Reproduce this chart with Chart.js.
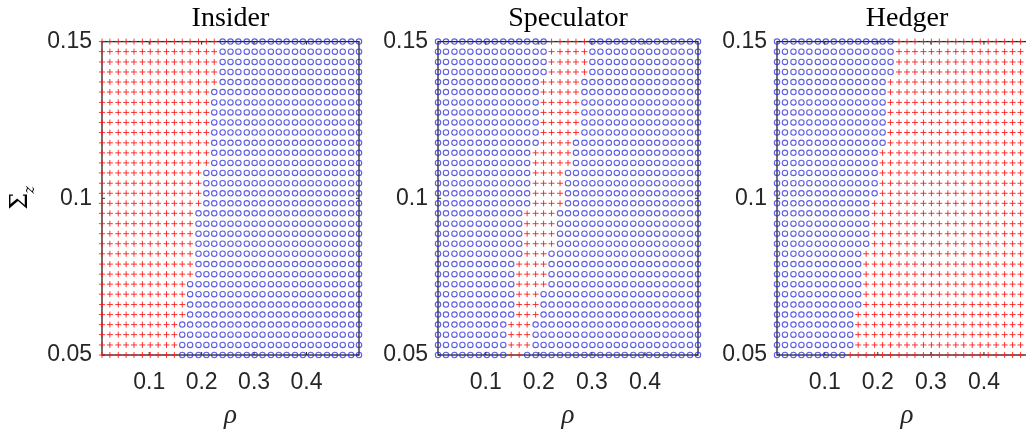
<!DOCTYPE html>
<html><head><meta charset="utf-8">
<script src="https://cdn.jsdelivr.net/npm/chart.js@4.4.0/dist/chart.umd.min.js"></script>
<style>
html,body{margin:0;padding:0;background:#fff;overflow:hidden;width:1026px;height:431px;}
#wrap{position:relative;width:1026px;height:431px;overflow:hidden;background:#fff;}
canvas{position:absolute;top:0;}
</style></head><body><div id="wrap">
<canvas id="c1" width="372" height="431" style="left:0px"></canvas>
<canvas id="c2" width="372" height="431" style="left:336px"></canvas>
<canvas id="c3" width="372" height="431" style="left:675px"></canvas>
</div>
<script>
// grid of rho values (x) and Sigma_z values (y, bottom-up)
const rho = [0.010,0.025,0.041,0.056,0.071,0.087,0.102,0.117,0.133,0.148,0.163,0.178,0.194,0.209,0.224,0.240,0.255,0.270,0.286,0.301,0.316,0.332,0.347,0.362,0.378,0.393,0.408,0.423,0.439,0.454,0.469,0.485,0.500];
const sigmaZ = [0.0500,0.0532,0.0565,0.0597,0.0629,0.0661,0.0694,0.0726,0.0758,0.0790,0.0823,0.0855,0.0887,0.0919,0.0952,0.0984,0.1016,0.1048,0.1081,0.1113,0.1145,0.1177,0.1210,0.1242,0.1274,0.1306,0.1339,0.1371,0.1403,0.1435,0.1468,0.1500];
const panelTitles = ['Insider','Speculator','Hedger'];
const xTicks = [0.1,0.2,0.3,0.4];
const yTicks = [0.05,0.1,0.15];
// Insider: first rho (per Sigma_z row, bottom-up) where marker becomes 'o'
const insiderSwitch = [0.163,0.163,0.163,0.163,0.178,0.178,0.178,0.178,0.194,0.194,0.194,0.194,0.194,0.194,0.194,0.209,0.209,0.209,0.209,0.224,0.224,0.224,0.224,0.224,0.224,0.224,0.224,0.240,0.240,0.240,0.240,0.240];
// Speculator: band of '+' markers per row (bottom-up)
const specRedFrom = [0.148,0.148,0.148,0.148,0.163,0.163,0.163,0.163,0.163,0.163,0.178,0.178,0.178,0.178,0.178,0.194,0.194,0.194,0.194,0.194,0.194,0.209,0.209,0.209,0.209,0.209,0.209,0.209,0.224,0.224,0.224,0.224];
const specRedTo   = [0.163,0.178,0.178,0.178,0.194,0.194,0.194,0.209,0.209,0.209,0.209,0.224,0.224,0.224,0.224,0.240,0.240,0.240,0.240,0.255,0.255,0.255,0.270,0.270,0.270,0.270,0.270,0.270,0.286,0.286,0.286,0.286];
// Hedger: first rho (per row, bottom-up) where marker becomes '+'
const hedgerSwitch = [0.148,0.163,0.163,0.163,0.163,0.178,0.178,0.178,0.178,0.178,0.178,0.194,0.194,0.194,0.194,0.194,0.209,0.209,0.209,0.209,0.209,0.224,0.224,0.224,0.224,0.224,0.224,0.224,0.240,0.240,0.240,0.240];

const RED = 'rgba(255,20,20,0.85)';
const BLUE = 'rgba(40,40,215,0.75)';
const AXIS = '#262626';

const framePlugin = {
  id: 'frame',
  beforeDatasetsDraw(chart) {
    const {ctx, chartArea: a, scales} = chart;
    ctx.save();
    ctx.strokeStyle = AXIS;
    ctx.lineWidth = 1.3;
    ctx.strokeRect(a.left, a.top, a.right - a.left, a.bottom - a.top);
    ctx.lineWidth = 1;
    const tl = 3;
    xTicks.forEach(v => {
      const px = scales.x.getPixelForValue(v);
      ctx.beginPath();
      ctx.moveTo(px, a.bottom); ctx.lineTo(px, a.bottom - tl);
      ctx.moveTo(px, a.top); ctx.lineTo(px, a.top + tl);
      ctx.stroke();
    });
    yTicks.forEach(v => {
      const py = scales.y.getPixelForValue(v);
      ctx.beginPath();
      ctx.moveTo(a.left, py); ctx.lineTo(a.left + tl, py);
      ctx.moveTo(a.right, py); ctx.lineTo(a.right - tl, py);
      ctx.stroke();
    });
    ctx.restore();
  }
};

const ylabelPlugin = {
  id: 'ylabel',
  afterDraw(chart) {
    const ctx = chart.ctx;
    const cy = (chart.chartArea.top + chart.chartArea.bottom) / 2 + 3;
    ctx.save();
    ctx.translate(21, cy);
    ctx.rotate(-Math.PI / 2);
    ctx.fillStyle = '#000';
    ctx.textAlign = 'center';
    ctx.textBaseline = 'middle';
    ctx.font = '24px "DejaVu Serif"';
    ctx.fillText('\u03A3', 0, 0);
    ctx.font = 'italic 14px "DejaVu Serif"';
    ctx.fillText('z', 11.5, 9);
    ctx.restore();
  }
};

function makeChart(id, title, isRed, padRight, extraPlugins) {
  const red = [], blue = [];
  sigmaZ.forEach((s, j) => rho.forEach(r => (isRed(r, j) ? red : blue).push({x: r, y: s})));
  return new Chart(document.getElementById(id), {
    type: 'scatter',
    data: { datasets: [
      { data: blue, pointStyle: 'circle', pointRadius: 2.7, pointBorderColor: BLUE, pointBackgroundColor: 'rgba(0,0,0,0)', pointBorderWidth: 1.1, clip: false },
      { data: red, pointStyle: 'cross', pointRadius: 3, pointBorderColor: RED, pointBackgroundColor: RED, pointBorderWidth: 1, clip: false }
    ]},
    options: {
      responsive: false, animation: false, devicePixelRatio: 1,
      events: [],
      layout: { padding: { left: 0, right: padRight, top: 0, bottom: 0 } },
      plugins: {
        legend: { display: false }, tooltip: { enabled: false },
        title: { display: true, text: title, fullSize: false, color: '#000',
          font: { family: 'Liberation Serif', size: 28, weight: 'normal', lineHeight: 1.2 },
          padding: { top: 2, bottom: 6 } }
      },
      scales: {
        x: { type: 'linear', min: 0.01, max: 0.5,
          afterBuildTicks: s => { s.ticks = xTicks.map(v => ({ value: v })); },
          afterFit: s => { s.height = 76; },
          grid: { display: false, drawTicks: false }, border: { display: false },
          ticks: { padding: 14, color: AXIS, font: { family: 'Liberation Sans', size: 23 }, callback: v => String(v), maxRotation: 0, autoSkip: false },
          title: { display: true, text: '\u03C1', color: AXIS,
            font: { family: 'Liberation Serif', style: 'italic', size: 27, lineHeight: 1 },
            padding: { top: 0, bottom: 2 } } },
        y: { type: 'linear', min: 0.05, max: 0.15,
          afterBuildTicks: s => { s.ticks = yTicks.map(v => ({ value: v })); },
          afterFit: s => { s.width = 102; },
          grid: { display: false, drawTicks: false }, border: { display: false },
          ticks: { padding: 10, color: AXIS, font: { family: 'Liberation Sans', size: 23 }, callback: v => String(v), autoSkip: false } }
      }
    },
    plugins: [framePlugin].concat(extraPlugins || [])
  });
}

makeChart('c1', panelTitles[0], (r, j) => r < insiderSwitch[j], 13, [ylabelPlugin]);
makeChart('c2', panelTitles[1], (r, j) => r >= specRedFrom[j] && r <= specRedTo[j], 10);
makeChart('c3', panelTitles[2], (r, j) => r >= hedgerSwitch[j], 10);
</script>
</body></html>
